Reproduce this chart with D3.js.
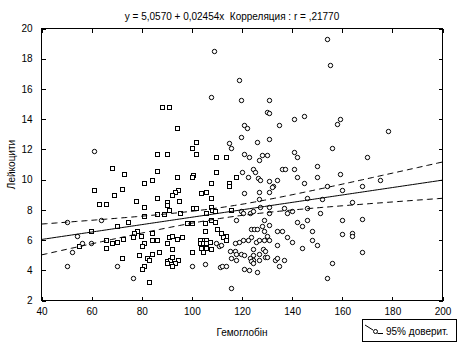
<!DOCTYPE html>
<html>
<head>
<meta charset="utf-8">
<script src="https://cdn.jsdelivr.net/npm/d3@7"></script>
<style>
  html, body { margin: 0; padding: 0; background: #fff; }
  svg { display: block; }
  text { font-family: "Liberation Sans", Arial, sans-serif; font-size: 10px; fill: #000; }
  .title { white-space: pre; }
</style>
</head>
<body>
<svg id="chart" width="458" height="344"></svg>
<script>
// Haemoglobin (x) vs leukocytes (y), two groups of observations
const sqPairs = [
  [88.0,14.8],[90.8,14.8],[93.9,13.4],[85.9,11.7],[89.9,11.7],[68.0,10.8],[72.9,10.4],[85.9,10.6],
  [93.9,10.2],[83.9,10.0],[80.7,9.8],[60.8,9.3],[72.0,9.4],[68.8,9.0],[94.4,9.3],[93.1,9.2],
  [92.0,9.0],[94.7,8.6],[62.8,8.4],[65.6,8.4],[77.9,8.6],[85.9,8.8],[89.9,8.5],[89.9,8.3],
  [90.7,8.0],[80.7,8.2],[80.7,7.6],[85.9,7.7],[88.7,7.7],[74.7,7.2],[70.0,6.9],[59.6,6.6],
  [78.1,6.6],[77.1,6.5],[76.7,6.2],[83.9,6.5],[79.9,6.3],[72.6,6.1],[65.6,6.0],[68.0,5.8],
  [70.0,5.9],[55.1,5.6],[80.7,5.8],[80.2,5.6],[83.9,6.0],[85.9,6.0],[90.7,6.2],[92.0,6.3],
  [93.9,6.1],[89.9,5.8],[65.6,5.5],[92.0,5.4],[78.9,5.0],[86.7,5.2],[83.9,5.1],[81.9,4.8],
  [82.7,4.7],[72.0,4.8],[89.9,4.6],[91.2,4.7],[89.9,4.5],[92.0,4.9],[94.4,4.7],[93.1,4.5],
  [92.0,4.3],[80.8,4.3],[80.2,4.1],[82.7,3.2],[101.8,12.5],[99.9,12.1],[101.8,11.7],[109.8,11.5],
  [113.8,11.5],[100.5,10.3],[99.9,10.2],[109.8,10.5],[117.8,10.2],[107.8,9.8],[114.8,9.8],[114.8,9.6],
  [103.8,9.1],[105.8,9.2],[107.8,8.8],[107.8,8.2],[100.5,8.1],[101.8,8.1],[105.8,7.8],[108.2,8.0],
  [109.1,7.9],[115.8,8.0],[95.2,7.8],[97.9,7.1],[99.9,7.1],[105.2,7.1],[107.8,7.3],[109.1,7.2],
  [105.2,6.6],[110.1,6.7],[111.8,6.5],[113.5,6.3],[112.4,6.2],[113.8,6.0],[95.9,6.2],[103.2,6.0],
  [104.8,6.0],[105.8,6.0],[107.1,5.9],[103.2,5.8],[104.5,5.8],[105.6,5.8],[103.8,5.5],[105.8,5.5],
  [107.8,5.4],[104.5,5.2],[99.9,5.2]
];
const ciPairs = [
  [60.9,11.9],[63.6,7.3],[50.3,7.2],[54.0,6.3],[59.6,5.8],[56.1,5.8],[52.0,5.2],[50.0,4.3],
  [70.2,4.3],[76.7,3.5],[108.9,18.5],[118.8,16.6],[107.8,15.5],[119.6,15.3],[130.8,15.3],[130.0,14.5],
  [130.8,14.4],[144.6,14.2],[140.7,14.0],[134.6,13.6],[120.8,13.6],[122.0,13.4],[119.6,12.8],[130.8,12.7],
  [126.0,12.5],[114.8,12.4],[115.8,12.1],[140.7,11.8],[141.9,11.5],[120.8,11.7],[122.8,11.5],[128.1,11.6],
  [130.1,11.6],[126.8,11.3],[153.9,19.3],[155.1,17.6],[159.1,14.0],[157.9,13.7],[178.2,13.2],[155.9,12.1],
  [169.8,11.5],[119.9,10.5],[122.2,10.2],[124.2,10.7],[125.1,10.5],[126.2,10.1],[127.1,10.0],[136.1,10.7],
  [137.0,10.7],[140.7,10.7],[149.9,10.9],[141.9,10.2],[149.9,10.2],[130.8,9.9],[134.0,10.0],[132.4,9.6],
  [131.9,9.5],[144.6,9.8],[126.8,9.2],[130.8,9.2],[120.8,9.1],[126.8,8.7],[145.9,8.8],[119.8,7.9],
  [120.4,7.8],[123.1,7.8],[124.2,7.9],[127.1,8.2],[130.8,8.2],[130.8,7.8],[136.8,8.1],[138.1,7.8],
  [139.9,7.9],[145.9,8.1],[117.8,7.3],[123.4,6.7],[124.7,6.7],[126.0,6.7],[128.7,7.3],[128.1,6.9],
  [130.8,7.0],[134.0,6.6],[136.1,6.6],[128.8,6.6],[141.9,7.2],[143.8,6.9],[145.9,7.3],[148.1,6.6],
  [138.0,6.2],[139.8,5.9],[130.0,6.3],[130.8,6.0],[123.4,6.2],[122.4,6.0],[120.2,6.0],[118.8,5.9],
  [117.1,5.8],[125.5,5.9],[126.6,6.0],[128.7,6.0],[134.1,5.7],[148.1,6.0],[143.9,5.5],[149.9,5.7],
  [109.8,5.8],[110.9,5.6],[111.8,5.7],[115.1,5.3],[117.1,5.3],[117.8,5.1],[119.8,5.1],[120.7,5.0],
  [124.2,5.4],[124.2,5.0],[128.4,5.4],[129.1,5.3],[126.8,5.1],[129.1,4.9],[130.0,4.9],[115.8,4.8],
  [117.5,4.7],[123.1,4.8],[124.2,4.7],[123.4,4.6],[126.8,4.7],[124.2,4.5],[133.0,4.7],[134.1,4.8],
  [136.8,4.7],[134.8,4.3],[100.0,4.3],[105.2,4.4],[111.1,4.2],[112.2,4.3],[113.5,4.3],[120.8,4.1],
  [122.8,4.0],[126.0,3.9],[115.8,2.8],[159.2,10.4],[153.9,9.6],[168.0,9.6],[160.0,9.3],[175.2,10.0],
  [152.1,8.7],[164.0,8.5],[151.0,7.8],[160.0,7.3],[168.0,7.4],[160.0,6.4],[163.7,6.5],[163.7,6.3],
  [168.0,5.2],[156.0,4.5],[153.9,3.5]
];

// Fitted regression line y = a + b*x
const intercept = 5.0570;
const slope = 0.02454;
const corrR = ",21770";

const xTicks = [40, 60, 80, 100, 120, 140, 160, 180, 200];
const yTicks = [2, 4, 6, 8, 10, 12, 14, 16, 18, 20];

const titleText = "y = 5,0570 + 0,02454x  Корреляция : r = " + corrR;
const xLabel = "Гемоглобін";
const yLabel = "Лейкоцити";
const legendText = "95% доверит.";

const svg = d3.select("#chart");
const pLeft = 41.5, pRight = 442.5, pTop = 28.5, pBottom = 300.5;

const x = d3.scaleLinear().domain([40, 200]).range([pLeft, pRight]);
const y = d3.scaleLinear().domain([2, 20]).range([pBottom, pTop]);

// Clip marks to the plot frame
svg.append("clipPath").attr("id", "plotclip")
  .append("rect").attr("x", pLeft).attr("y", pTop)
  .attr("width", pRight - pLeft).attr("height", pBottom - pTop);

// Axes: ticks point into the plot on all four sides
const tick = 4;
svg.append("g").attr("transform", `translate(0,${pBottom})`)
  .call(d3.axisBottom(x).tickValues(xTicks).tickSize(-tick).tickSizeOuter(0).tickPadding(7).tickFormat(d3.format("d")))
  .call(g => g.select(".domain").remove());
svg.append("g").attr("transform", `translate(0,${pTop})`)
  .call(d3.axisTop(x).tickValues(xTicks).tickSize(-tick).tickSizeOuter(0).tickFormat(""))
  .call(g => g.select(".domain").remove());
svg.append("g").attr("transform", `translate(${pLeft},0)`)
  .call(d3.axisLeft(y).tickValues(yTicks).tickSize(-tick).tickSizeOuter(0).tickPadding(9).tickFormat(d3.format("d")))
  .call(g => g.select(".domain").remove());
svg.append("g").attr("transform", `translate(${pRight},0)`)
  .call(d3.axisRight(y).tickValues(yTicks).tickSize(-tick).tickSizeOuter(0).tickFormat(""))
  .call(g => g.select(".domain").remove());

svg.selectAll(".tick line").attr("stroke", "#000").attr("shape-rendering", "crispEdges");
svg.selectAll(".tick text").style("font-family", "'Liberation Sans', Arial, sans-serif").style("font-size", "10px");

// Plot frame
svg.append("rect")
  .attr("x", pLeft).attr("y", pTop)
  .attr("width", pRight - pLeft).attr("height", pBottom - pTop)
  .attr("fill", "none").attr("stroke", "#000").attr("shape-rendering", "crispEdges");

const plot = svg.append("g").attr("clip-path", "url(#plotclip)");

// Markers
plot.selectAll("rect.sq").data(sqPairs).join("rect")
  .attr("class", "sq")
  .attr("x", d => Math.round(x(d[0])) - 2 + 0.5)
  .attr("y", d => Math.round(y(d[1])) - 2 + 0.5)
  .attr("width", 4).attr("height", 4)
  .attr("fill", "#fff").attr("stroke", "#000").attr("stroke-width", 1);

plot.selectAll("circle.ci").data(ciPairs).join("circle")
  .attr("class", "ci")
  .attr("cx", d => Math.round(x(d[0])) + 0.5)
  .attr("cy", d => Math.round(y(d[1])) + 0.5)
  .attr("r", 2.2)
  .attr("fill", "#fff").attr("stroke", "#000").attr("stroke-width", 1);

// Regression line and 95% confidence band for the mean
const all = sqPairs.concat(ciPairs);
const n = all.length;
const xMean = d3.mean(all, d => d[0]);
const sxx = d3.sum(all, d => (d[0] - xMean) ** 2);
const sse = d3.sum(all, d => (d[1] - (intercept + slope * d[0])) ** 2);
const sRes = Math.sqrt(sse / (n - 2));
const tCrit = 1.969;

const xs = d3.range(40, 200.01, 1);
const fit = v => intercept + slope * v;
const half = v => tCrit * sRes * Math.sqrt(1 / n + (v - xMean) ** 2 / sxx);

const line = d3.line().x(d => x(d[0])).y(d => y(d[1]));

plot.append("path")
  .datum(xs.map(v => [v, fit(v)]))
  .attr("d", line).attr("fill", "none").attr("stroke", "#000").attr("stroke-width", 1);

[1, -1].forEach(sign => {
  plot.append("path")
    .datum(xs.map(v => [v, fit(v) + sign * half(v)]))
    .attr("d", line).attr("fill", "none").attr("stroke", "#000")
    .attr("stroke-width", 1).attr("stroke-dasharray", "6,4");
});

// Title and axis titles
svg.append("text").attr("class", "title").attr("x", 232).attr("y", 20)
  .attr("text-anchor", "middle").text(titleText);
svg.append("text").attr("x", (pLeft + pRight) / 2).attr("y", 336).attr("text-anchor", "middle").text(xLabel);
svg.append("text")
  .attr("transform", `translate(15,${(pTop + pBottom) / 2}) rotate(-90)`)
  .attr("text-anchor", "middle").text(yLabel);

// Legend
const lg = svg.append("g");
lg.append("rect").attr("x", 362.5).attr("y", 319.5).attr("width", 94).attr("height", 22)
  .attr("fill", "#fff").attr("stroke", "#000").attr("shape-rendering", "crispEdges");
lg.append("path").attr("d", "M365,325 L373,330").attr("stroke", "#000").attr("fill", "none");
lg.append("circle").attr("cx", 375.5).attr("cy", 331.5).attr("r", 2).attr("fill", "#fff").attr("stroke", "#000");
lg.append("path").attr("d", "M377.5,333.5 L383,333.5").attr("stroke", "#000").attr("fill", "none");
lg.append("text").attr("x", 386).attr("y", 334.5).text(legendText);
</script>
</body>
</html>
